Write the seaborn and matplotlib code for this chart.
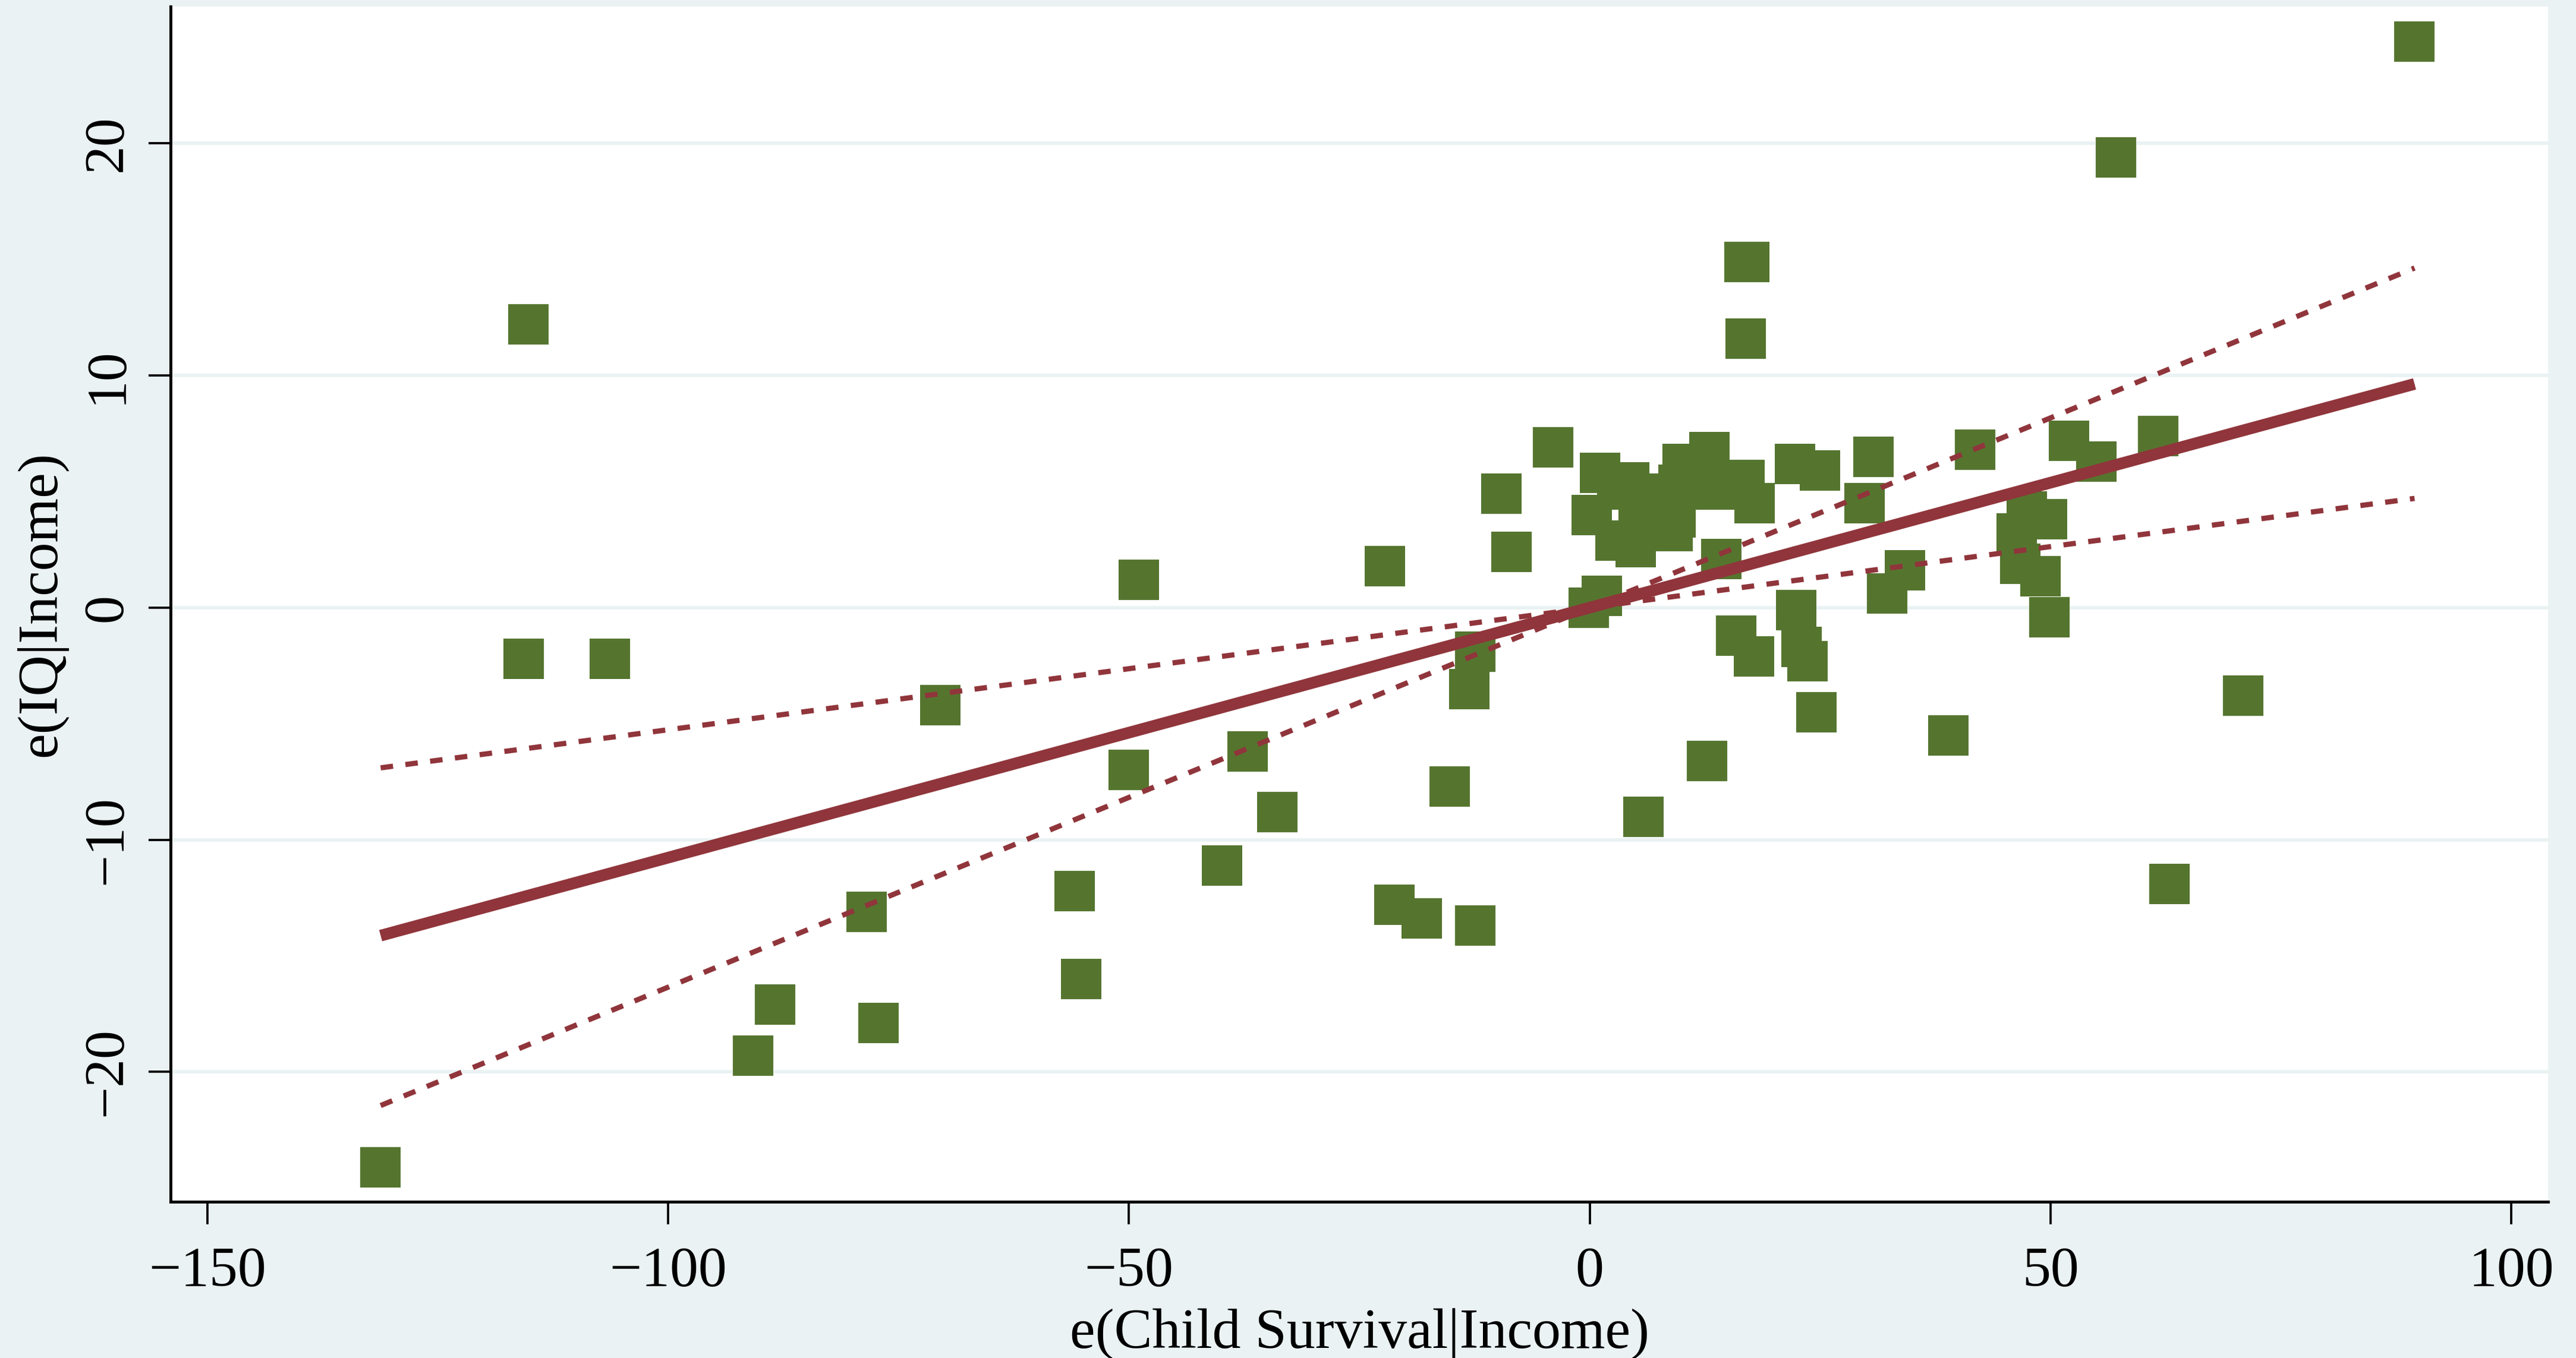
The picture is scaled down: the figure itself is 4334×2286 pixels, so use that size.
"""
Added-variable plot: e(IQ|Income) against e(Child Survival|Income),
with the fitted line and its 95% confidence bounds (Stata s2color look).
"""
import matplotlib
matplotlib.use('Agg')  # no display
import matplotlib.pyplot as plt
import numpy as np
import pandas as pd
import seaborn as sns

# residuals
e_child_survival = [
    89.5, 57.1, 16.8, 17.3, 16.9, -115.2, -115.7, -106.3, -70.5, -48.9,
    -50.0, -22.2, -4.0, -9.6, -8.5, -37.1, -39.9, -33.9, -55.9, -55.2,
    -78.5, -77.2, -88.4, -90.8, -131.2, -21.2, -18.2, -12.4, -15.2, -12.4,
    -13.1, 5.8, 12.7, 15.9, 17.8, 14.3, 22.4, 23.0, 23.6, 24.6,
    38.9, 32.3, 34.2, 29.8, 30.8, 41.8, 22.3, 25.0, 16.8, 17.9,
    52.0, 55.0, 61.7, 46.3, 46.7, 47.4, 49.6, 48.9, 49.9, 70.9,
    62.9, -0.1, 1.3, 1.1, 0.2, 2.8, 5.0, 4.3, 9.6, 10.1,
    13.0, 13.6, 9.0, 9.3, 6.1, 5.3, 3.0, 7.5,
]
e_iq = [
    24.4, 19.4, 14.9, 14.9, 11.6, 12.2, -2.2, -2.2, -4.2, 1.2,
    -7.0, 1.8, 6.9, 4.9, 2.4, -6.2, -11.1, -8.8, -12.2, -16.0,
    -13.1, -17.9, -17.1, -19.3, -24.1, -12.8, -13.4, -13.7, -7.7, -1.9,
    -3.5, -9.0, -6.6, -1.2, -2.1, 2.1, -0.1, -1.7, -2.3, -4.5,
    -5.5, 0.6, 1.6, 4.5, 6.5, 6.8, 6.2, 5.9, 5.5, 4.5,
    7.2, 6.3, 7.4, 3.2, 1.9, 4.15, 3.8, 1.35, -0.4, -3.8,
    -11.9, 0.0, 0.5, 5.8, 4.0, 2.9, 2.6, 5.4, 5.3, 6.2,
    6.7, 5.1, 3.3, 3.9, 4.9, 3.7, 5.1, 4.0,
]

# slope of the fitted line and its confidence bounds
fit_slope = 0.1077
ci_slope_low = 0.0526
ci_slope_high = 0.1635

x_ticks = [-150, -100, -50, 0, 50, 100]
y_ticks = [-20, -10, 0, 10, 20]

BG = '#EAF2F3'
GREEN = '#55752F'
MAROON = '#90353B'


def main():
    df = pd.DataFrame({'x': e_child_survival, 'y': e_iq})

    sns.set_theme(style='white')
    plt.rcParams['font.family'] = ['Liberation Serif', 'DejaVu Serif']

    fig = plt.figure(figsize=(4334 / 300, 2286 / 300), dpi=300, facecolor=BG)
    ax = fig.add_axes([0.0662, 0.1150, 0.9230, 0.8802])
    ax.set_facecolor('white')

    sns.scatterplot(data=df, x='x', y='y', ax=ax, marker='s', s=265,
                    color=GREEN, edgecolor=GREEN, linewidth=0, zorder=3)

    # fitted line and CI bounds over the data range (residuals -> through origin)
    xr = np.array([df['x'].min(), df['x'].max()])
    ax.plot(xr, fit_slope * xr, color=MAROON, lw=4.7, solid_capstyle='butt', zorder=4)
    for b in (ci_slope_low, ci_slope_high):
        ax.plot(xr, b * xr, color=MAROON, lw=2.1, dashes=(2.4, 2.4), zorder=4)

    ax.set_xlim(-154, 104)
    ax.set_ylim(-25.6, 25.9)
    ax.set_xticks(x_ticks)
    ax.set_yticks(y_ticks)

    ax.yaxis.grid(True, color=BG, lw=1.4)
    ax.xaxis.grid(False)
    ax.set_axisbelow(True)

    for side in ('top', 'right'):
        ax.spines[side].set_visible(False)
    for side in ('left', 'bottom'):
        ax.spines[side].set_color('black')
        ax.spines[side].set_linewidth(1.2)

    ax.tick_params(axis='both', direction='out', length=9, width=0.9,
                   color='black', labelsize=23, labelcolor='black', left=True, bottom=True)
    ax.tick_params(axis='x', pad=9)
    ax.tick_params(axis='y', pad=6)
    for lab in ax.get_yticklabels():
        lab.set_rotation(90)
        lab.set_va('center')

    ax.set_xlabel('e(Child Survival|Income)', fontsize=23, color='black', labelpad=4)
    ax.set_ylabel('e(IQ|Income)', fontsize=23, color='black', labelpad=6)

    fig.savefig('out.png', dpi=300, facecolor=BG)
    plt.close(fig)


if __name__ == '__main__':
    main()
